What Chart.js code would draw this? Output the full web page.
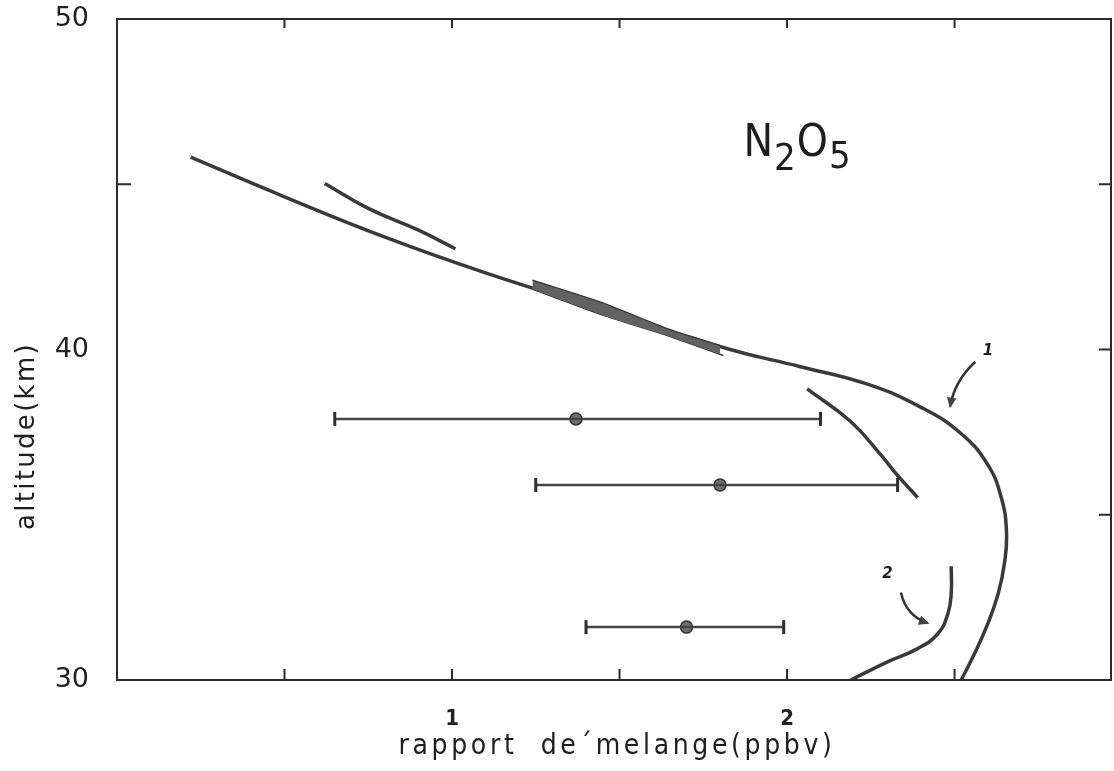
<!DOCTYPE html>
<html lang="fr">
<head>
<meta charset="utf-8">
<title>N2O5 - rapport de mélange</title>
<script src="https://cdn.jsdelivr.net/npm/chart.js@4.4.1/dist/chart.umd.min.js"></script>
<style>
  html, body { margin: 0; padding: 0; background: #fff; }
  #graf { display: block; }
</style>
</head>
<body>
<canvas id="graf" width="1114" height="771"></canvas>
<script>
// ─── Données (ppbv / km) ─────────────────────────────────────────
// profil 1 : courbe principale
const profil1X = [0.22, 0.50, 0.80, 1.10, 1.45, 1.83, 2.04, 2.24, 2.40, 2.52, 2.60, 2.64, 2.655, 2.65, 2.63, 2.595, 2.555, 2.52];
const profil1Y = [45.82, 44.62, 43.40, 42.32, 41.20, 40.00, 39.48, 38.95, 38.25, 37.45, 36.50, 35.50, 34.50, 33.60, 32.60, 31.60, 30.70, 30.00];

// bande grisée le long du profil 1
const bandeHautX = [1.24, 1.45, 1.64, 1.80];
const bandeHautY = [42.10, 41.41, 40.64, 40.12];
const bandeBasX  = [1.24, 1.45, 1.64, 1.81];
const bandeBasY  = [41.83, 41.04, 40.43, 39.82];

// segment court en haut
const profilHautX = [0.62, 0.75, 0.90, 1.01];
const profilHautY = [45.02, 44.27, 43.61, 43.05];

// segment oblique vers 36-39 km
const profilObliqueX = [2.06, 2.19, 2.28, 2.33, 2.39];
const profilObliqueY = [38.81, 37.82, 36.81, 36.19, 35.52];

// profil 2
const profil2X = [2.49, 2.49, 2.48, 2.45, 2.39, 2.30, 2.19];
const profil2Y = [33.44, 32.62, 32.00, 31.40, 30.95, 30.55, 30.00];

// mesures avec barres d'erreur
const mesureAlt = [37.90, 35.90, 31.60];
const mesureVal = [1.37, 1.80, 1.70];
const mesureMin = [0.65, 1.25, 1.40];
const mesureMax = [2.10, 2.33, 1.99];

// graduations
const etiquettesX = [1, 2];
const etiquettesY = [30, 40, 50];
const graduationsX = [0.5, 1, 1.5, 2, 2.5];
const graduationsYGauche = [45];
const graduationsYDroite = [35, 40, 45];

const pts = (xs, ys) => xs.map((x, i) => ({ x: x, y: ys[i] }));

const COULEUR_TRAIT = '#3a3a3a';

// ─── Texte avec espacement ajusté à une largeur ──────────────────
function texteEspace(ctx, txt, x, y, largeur) {
    ctx.letterSpacing = '0px';
    const w = ctx.measureText(txt).width;
    const esp = Math.max(0, (largeur - w) / txt.length);
    ctx.letterSpacing = esp + 'px';
    ctx.textAlign = 'left';
    ctx.fillText(txt, x - largeur / 2, y);
    ctx.letterSpacing = '0px';
}

// ─── Cadre et graduations intérieures ────────────────────────────
const cadre = {
    id: 'cadre',
    afterDatasetsDraw(chart) {
        const { ctx, chartArea: a, scales: { x, y } } = chart;
        ctx.save();
        ctx.strokeStyle = '#2b2b2b';
        ctx.lineWidth = 2;
        ctx.strokeRect(a.left, a.top, a.right - a.left, a.bottom - a.top);
        ctx.beginPath();
        graduationsX.forEach(v => {
            const px = x.getPixelForValue(v);
            ctx.moveTo(px, a.bottom); ctx.lineTo(px, a.bottom - 11);
            ctx.moveTo(px, a.top);    ctx.lineTo(px, a.top + 9);
        });
        graduationsYGauche.forEach(v => {
            const py = y.getPixelForValue(v);
            ctx.moveTo(a.left, py); ctx.lineTo(a.left + 14, py);
        });
        graduationsYDroite.forEach(v => {
            const py = y.getPixelForValue(v);
            ctx.moveTo(a.right, py); ctx.lineTo(a.right - 12, py);
        });
        ctx.stroke();
        ctx.restore();
    }
};

// ─── Textes, flèches et légende chimique ─────────────────────────
const fleches = [
    { de: [2.562, 39.63], via: [2.50, 39.05], a: [2.487, 38.28] },
    { de: [2.340, 32.65], via: [2.355, 31.95], a: [2.420, 31.72] }
];
const reperes = [
    { t: '1', x: 2.60, y: 39.84 },
    { t: '2', x: 2.30, y: 33.08 }
];

const textes = {
    id: 'textes',
    afterDraw(chart) {
        const { ctx, scales: { x, y } } = chart;
        ctx.save();
        ctx.fillStyle = '#1e1e1e';
        ctx.textBaseline = 'alphabetic';

        // titre de l'axe x
        ctx.font = '28px "DejaVu Sans Condensed", "DejaVu Sans", sans-serif';
        texteEspace(ctx, 'rapport  de\u00b4melange(ppbv)', 617, 754, 437);

        // titre de l'axe y
        ctx.save();
        ctx.translate(27, 436);
        ctx.rotate(-Math.PI / 2);
        ctx.textBaseline = 'middle';
        ctx.font = '26px "DejaVu Sans", sans-serif';
        texteEspace(ctx, 'altitude(km)', 0, 0, 188);
        ctx.restore();

        // N2O5
        let px = x.getPixelForValue(1.87);
        const py = y.getPixelForValue(45.85);
        const morceaux = [['N', 0], ['2', 14], ['O', 0], ['5', 12]];
        morceaux.forEach(([c, dy]) => {
            ctx.font = (dy ? '38px' : '44px') + ' "Liberation Sans Narrow", "DejaVu Sans Condensed", sans-serif';
            ctx.textAlign = 'left';
            ctx.fillText(c, px, py + dy);
            px += ctx.measureText(c).width + 1;
        });

        // repères numérotés
        ctx.font = 'italic bold 15px "DejaVu Sans", sans-serif';
        ctx.textAlign = 'center';
        reperes.forEach(r => ctx.fillText(r.t, x.getPixelForValue(r.x), y.getPixelForValue(r.y)));

        // flèches
        ctx.strokeStyle = '#333';
        ctx.fillStyle = '#444';
        ctx.lineWidth = 2.5;
        fleches.forEach(f => {
            const p0 = [x.getPixelForValue(f.de[0]), y.getPixelForValue(f.de[1])];
            const p1 = [x.getPixelForValue(f.via[0]), y.getPixelForValue(f.via[1])];
            const p2 = [x.getPixelForValue(f.a[0]), y.getPixelForValue(f.a[1])];
            ctx.beginPath();
            ctx.moveTo(p0[0], p0[1]);
            ctx.quadraticCurveTo(p1[0], p1[1], p2[0], p2[1]);
            ctx.stroke();
            const ang = Math.atan2(p2[1] - p1[1], p2[0] - p1[0]);
            const L = 10;
            ctx.beginPath();
            ctx.moveTo(p2[0] + 2 * Math.cos(ang), p2[1] + 2 * Math.sin(ang));
            ctx.lineTo(p2[0] - L * Math.cos(ang - 0.5), p2[1] - L * Math.sin(ang - 0.5));
            ctx.lineTo(p2[0] - L * Math.cos(ang + 0.5), p2[1] - L * Math.sin(ang + 0.5));
            ctx.closePath();
            ctx.fill();
        });
        ctx.restore();
    }
};

// ─── Jeux de données ─────────────────────────────────────────────
const courbe = (data, largeur) => ({
    data: data,
    showLine: true,
    borderColor: COULEUR_TRAIT,
    borderWidth: largeur,
    pointRadius: 0,
    tension: 0.45,
    fill: false
});

const datasets = [
    Object.assign(courbe(pts(bandeHautX, bandeHautY), 1.5), {
        fill: '+1', backgroundColor: '#626262', tension: 0.2
    }),
    Object.assign(courbe(pts(bandeBasX, bandeBasY), 1.5), { tension: 0.2 }),
    courbe(pts(profil1X, profil1Y), 3.5),
    courbe(pts(profilHautX, profilHautY), 3.5),
    courbe(pts(profilObliqueX, profilObliqueY), 3.5),
    courbe(pts(profil2X, profil2Y), 3.5),
    ...mesureAlt.map((alt, i) => ({
        data: [{ x: mesureMin[i], y: alt }, { x: mesureMax[i], y: alt }],
        showLine: true,
        borderColor: '#444',
        borderWidth: 2.5,
        pointStyle: 'line',
        pointRotation: 90,
        pointRadius: 7,
        pointBorderWidth: 3,
        pointBorderColor: '#2e2e2e'
    })),
    {
        data: pts(mesureVal, mesureAlt),
        pointRadius: 6,
        pointBackgroundColor: '#6e6e6e',
        pointBorderColor: '#333',
        pointBorderWidth: 1.5
    }
];

new Chart(document.getElementById('graf'), {
    type: 'scatter',
    data: { datasets: datasets },
    options: {
        responsive: false,
        animation: false,
        layout: { autoPadding: false, padding: { top: 19, right: 3, left: 0, bottom: 0 } },
        plugins: {
            legend: { display: false },
            tooltip: { enabled: false }
        },
        scales: {
            x: {
                type: 'linear',
                min: 0,
                max: 2.967,
                grid: { display: false },
                border: { display: false },
                afterBuildTicks: (ax) => { ax.ticks = etiquettesX.map(v => ({ value: v })); },
                afterFit: (ax) => { ax.height = 91; ax.paddingLeft = 0; ax.paddingRight = 0; },
                ticks: {
                    padding: 18,
                    color: '#222',
                    font: { family: '"DejaVu Sans Condensed", "DejaVu Sans", sans-serif', size: 22, weight: 'bold' },
                    callback: (v) => String(v)
                }
            },
            y: {
                type: 'linear',
                min: 30,
                max: 50,
                grid: { display: false },
                border: { display: false },
                afterBuildTicks: (ax) => { ax.ticks = etiquettesY.map(v => ({ value: v })); },
                afterFit: (ax) => { ax.width = 117; ax.paddingTop = 0; ax.paddingBottom = 0; },
                ticks: {
                    padding: 20,
                    color: '#222',
                    font: { family: '"DejaVu Sans", sans-serif', size: 27 },
                    callback: (v) => String(v)
                }
            }
        }
    },
    plugins: [cadre, textes]
});
</script>
</body>
</html>
